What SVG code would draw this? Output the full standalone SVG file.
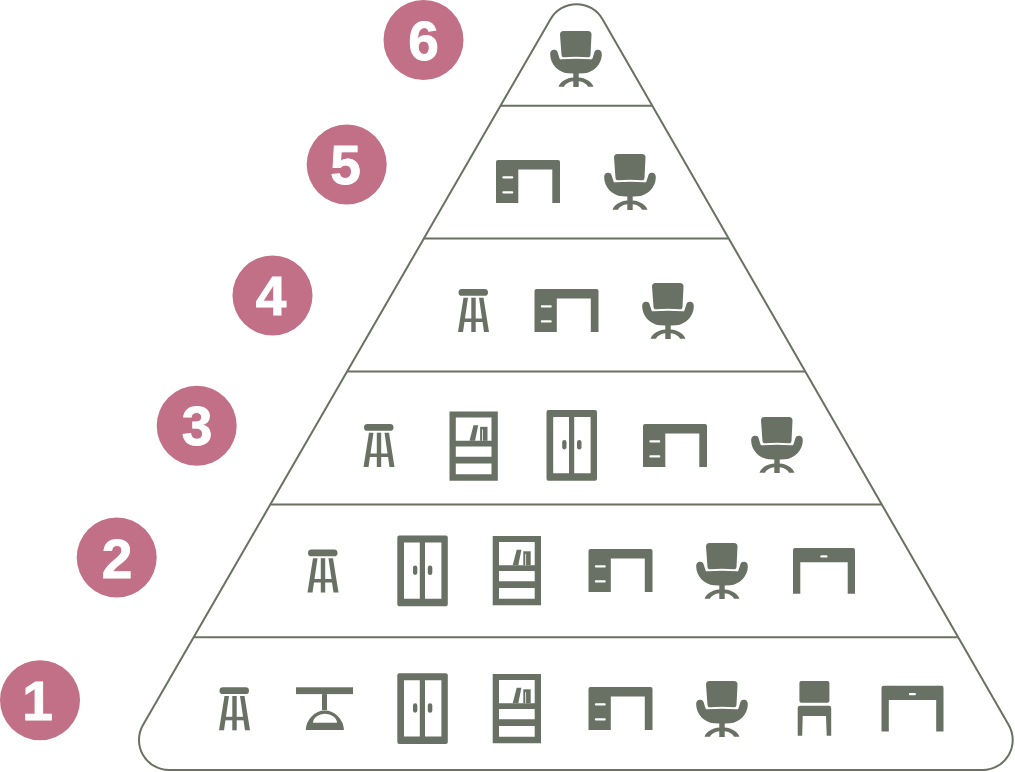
<svg xmlns="http://www.w3.org/2000/svg" width="1015" height="772" viewBox="0 0 1015 772">
<style>
.line{fill:none;stroke:#687162;stroke-width:2}
.ic{fill:#687163}
.hole{fill:#fff}
.badge{fill:#c27088}
.num{fill:#fff;stroke:#fff;stroke-width:0.9;font-family:"Liberation Sans",Arial,sans-serif;font-weight:700;font-size:55px;text-anchor:middle}
</style>
<defs>
<symbol id="chair" overflow="visible">
<path class="ic" d="M10,3.500Q10,0 13.500,0H38Q41.500,0 41.500,3.500L40.500,24Q40.300,26.500 38,26.300Q26,25 14,26.300Q11.700,26.500 11.500,24Z"/>
<path class="ic" d="M0.200,24C0,20 2,18.700 4.200,18.700C6.400,18.700 7.300,20 7.700,21.500L9.400,27C9.800,28.400 10.500,28.500 12,28.300Q26,27.400 40,28.300C41.500,28.500 42.200,28.400 42.600,27L44.300,21.500C44.700,20 45.600,18.700 47.800,18.700C50,18.700 52,20 51.800,24C51.500,33 44,41.500 34,42.300L28.700,42.500V46.500C35,47 41.500,50 43.500,55.800H38C36.500,52.500 32.500,50.700 28.700,50.300V56H23.300V50.300C19.500,50.700 15.500,52.500 14,55.800H8.500C10.500,50 17,47 23.300,46.500V42.500L18,42.300C8,41.500 0.500,33 0.200,24Z"/>
</symbol>
<symbol id="desk" overflow="visible">
<path class="ic" d="M0,2Q0,0 2,0H62Q64,0 64,2V43H56.300V9.500H22.300V43H0Z"/>
<rect class="hole" x="6.300" y="16.300" width="11" height="2.200" rx="1.100"/>
<rect class="hole" x="6.300" y="31.300" width="11" height="2.200" rx="1.100"/>
</symbol>
<symbol id="stool" overflow="visible">
<rect class="ic" x="0.500" y="0" width="29.500" height="6.800" rx="3.400"/>
<path class="ic" d="M5.500,8.700H10L5,43H0Z"/>
<path class="ic" d="M21,8.700H25.500L31,43H26Z"/>
<rect class="ic" x="13.300" y="8.700" width="4.400" height="34.300"/>
<rect class="ic" x="4" y="29.500" width="23" height="3.500"/>
</symbol>
<symbol id="lamp" overflow="visible">
<rect class="ic" x="0" y="0" width="57" height="6.800"/>
<rect class="ic" x="26" y="6.800" width="5" height="16"/>
<path class="ic" fill-rule="evenodd" d="M9.700,42.800A19.200,21 0 0 1 48,42.800V42.800Z M17,35.500H41A12,9 0 0 0 17,35.500Z"/>
</symbol>
<symbol id="wardrobe" overflow="visible">
<path class="ic" fill-rule="evenodd" d="M2,0H48.500Q50.500,0 50.500,2V68.700Q50.500,70.700 48.500,70.700H2Q0,70.700 0,68.700V2Q0,0 2,0Z M6.700,7V63.200H22.500V7Z M27.700,7V63.200H44.100V7Z"/>
<rect class="ic" x="15.700" y="30" width="4.300" height="9.400" rx="2.100"/>
<rect class="ic" x="30.500" y="30" width="4.500" height="9.400" rx="2.200"/>
</symbol>
<symbol id="bookcase" overflow="visible">
<path class="ic" fill-rule="evenodd" d="M0,0H48.300V69.300H0Z M6.300,6V29.300H42V6Z M6.300,35V45.300H42V35Z M6.300,52V62.700H42V52Z"/>
<path class="ic" d="M24,13.700H28.700L25.600,29.300H20Z"/>
<path class="ic" d="M30.600,15.300H38V29.300H30.600Z"/>
<path class="hole" d="M32.600,18H33.400V29.300H32.600Z"/>
</symbol>
<symbol id="table" overflow="visible">
<path class="ic" d="M0,2Q0,0 2,0H60Q62,0 62,2V45.700H54.700V14.300H7.300V45.700H0Z"/>
<rect class="hole" x="27.300" y="7.200" width="7.200" height="2.400" rx="1.200"/>
</symbol>
<symbol id="sidechair" overflow="visible">
<rect class="ic" x="1.700" y="0" width="30" height="21.700" rx="2"/>
<path class="ic" d="M0,27Q0,24.700 2.300,24.700H31.200Q33.500,24.700 33.500,27V54.700H29L28.300,35H5L4.500,54.700H0Z"/>
</symbol>
</defs>
<g id="connectors">
<path id="pyramid-outline" class="line" d="M550.500,19.200A30,30 0 0 1 602.500,19.200L1008.700,725A30,30 0 0 1 982.700,770H169A30,30 0 0 1 143,725Z"/>
<path class="line" d="M501,105.700H652"/>
<path class="line" d="M424,238.500H728"/>
<path class="line" d="M347,371.500H805"/>
<path class="line" d="M271,504.500H882"/>
<path class="line" d="M194,637.300H958"/>
</g>
<g id="tier-6">
<circle class="badge" cx="423.500" cy="40" r="40"/><text class="num" x="423.500" y="59.500">6</text>
<use href="#chair" x="550" y="31"/>
</g>
<g id="tier-5">
<circle class="badge" cx="346.700" cy="164.500" r="40"/><text class="num" x="345.500" y="184">5</text>
<use href="#desk" x="496" y="160"/>
<use href="#chair" x="604" y="154"/>
</g>
<g id="tier-4">
<circle class="badge" cx="272.500" cy="295.500" r="40"/><text class="num" x="271" y="315">4</text>
<use href="#stool" x="458" y="289"/>
<use href="#desk" x="534.500" y="289"/>
<use href="#chair" x="642" y="283"/>
</g>
<g id="tier-3">
<circle class="badge" cx="196.700" cy="425.700" r="40"/><text class="num" x="197" y="445">3</text>
<use href="#stool" x="363.500" y="424"/>
<use href="#bookcase" x="449.500" y="411.500"/>
<use href="#wardrobe" x="546.500" y="410"/>
<use href="#desk" x="643" y="424"/>
<use href="#chair" x="751" y="417"/>
</g>
<g id="tier-2">
<circle class="badge" cx="116.700" cy="557.500" r="40"/><text class="num" x="117" y="577.500">2</text>
<use href="#stool" x="307.500" y="549.500"/>
<use href="#wardrobe" x="397.300" y="535.500"/>
<use href="#bookcase" x="492.700" y="536"/>
<use href="#desk" x="588.500" y="549"/>
<use href="#chair" x="696" y="543"/>
<use href="#table" x="793" y="548"/>
</g>
<g id="tier-1">
<circle class="badge" cx="40" cy="700.300" r="40"/><text class="num" x="37.500" y="720">1</text>
<use href="#stool" x="219" y="687.300"/>
<use href="#lamp" x="296" y="687.300"/>
<use href="#wardrobe" x="397.300" y="673.300"/>
<use href="#bookcase" x="492.700" y="674"/>
<use href="#desk" x="588.500" y="687"/>
<use href="#chair" x="696" y="681"/>
<use href="#sidechair" x="797.700" y="681"/>
<use href="#table" x="881.500" y="685.700"/>
</g>
</svg>
